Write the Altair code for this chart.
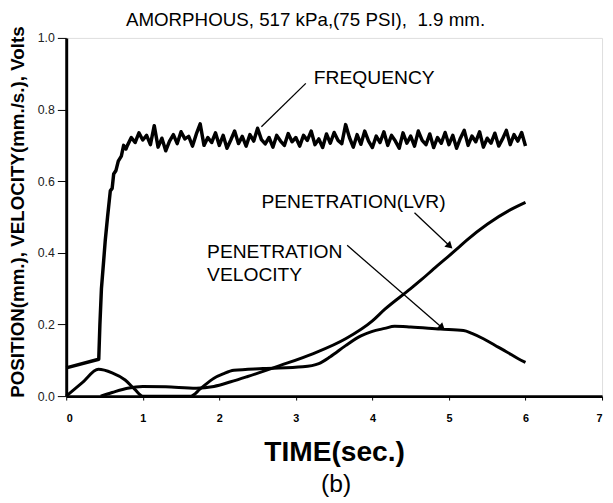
import altair as alt
import pandas as pd
import math

# ---------------- data ----------------
freq_t = [0.0, 0.425, 0.44, 0.46, 0.49, 0.51, 0.54, 0.576, 0.60, 0.62, 0.65, 0.68, 0.72, 0.75, 0.78,
          0.80, 0.85, 0.90, 0.95, 1.00, 1.05, 1.10, 1.15, 1.20, 1.25, 1.30, 1.35, 1.40, 1.45, 1.50,
          1.55, 1.60, 1.65, 1.70, 1.75, 1.80, 1.85, 1.90, 1.95, 2.00, 2.05, 2.10, 2.15, 2.20, 2.25,
          2.30, 2.35, 2.40, 2.45, 2.50, 2.55, 2.60, 2.65, 2.70, 2.75, 2.80, 2.85, 2.90, 2.95, 3.00,
          3.05, 3.10, 3.15, 3.20, 3.25, 3.30, 3.35, 3.40, 3.45, 3.50, 3.55, 3.60, 3.65, 3.70, 3.75,
          3.80, 3.85, 3.90, 3.95, 4.00, 4.05, 4.10, 4.15, 4.20, 4.25, 4.30, 4.35, 4.40, 4.45, 4.50,
          4.55, 4.60, 4.65, 4.70, 4.75, 4.80, 4.85, 4.90, 4.95, 5.00, 5.05, 5.10, 5.15, 5.20, 5.25,
          5.30, 5.35, 5.40, 5.45, 5.50, 5.55, 5.60, 5.65, 5.70, 5.75, 5.80, 5.85, 5.90, 5.95, 6.00]
freq_v = [0.079, 0.103, 0.20, 0.30, 0.38, 0.435, 0.50, 0.573, 0.58, 0.62, 0.63, 0.656, 0.67, 0.70, 0.69,
          0.700, 0.722, 0.708, 0.735, 0.715, 0.728, 0.702, 0.755, 0.695, 0.720, 0.685, 0.712, 0.730, 0.705, 0.738,
          0.718, 0.725, 0.698, 0.732, 0.760, 0.700, 0.722, 0.708, 0.735, 0.700, 0.728, 0.692, 0.715, 0.740, 0.705,
          0.725, 0.698, 0.730, 0.712, 0.748, 0.716, 0.704, 0.722, 0.695, 0.728, 0.712, 0.700, 0.733, 0.710, 0.722,
          0.698, 0.728, 0.714, 0.740, 0.702, 0.718, 0.694, 0.732, 0.706, 0.736, 0.714, 0.705, 0.758, 0.722, 0.695,
          0.730, 0.703, 0.740, 0.712, 0.694, 0.726, 0.708, 0.738, 0.700, 0.728, 0.712, 0.692, 0.735, 0.706, 0.726,
          0.698, 0.740, 0.714, 0.702, 0.732, 0.694, 0.722, 0.706, 0.736, 0.702, 0.728, 0.692, 0.720, 0.742, 0.700,
          0.726, 0.710, 0.738, 0.695, 0.720, 0.706, 0.734, 0.698, 0.718, 0.742, 0.702, 0.730, 0.712, 0.736, 0.698]

vel_t = [0.0, 0.21, 0.42, 0.6, 0.77, 0.9, 1.0, 1.63, 1.75, 1.93, 2.05, 2.19, 2.57, 3.09, 3.3, 3.45, 3.65,
         3.85, 3.99, 4.16, 4.29, 4.5, 4.89, 5.19, 5.3, 5.45, 5.6, 5.75, 5.9, 6.0]
vel_v = [0.0, 0.0375, 0.075, 0.065, 0.045, 0.018, 0.0, 0.0, 0.02, 0.05, 0.062, 0.072, 0.077, 0.082, 0.091, 0.11, 0.141,
         0.168, 0.18, 0.189, 0.195, 0.193, 0.187, 0.183, 0.175, 0.16, 0.142, 0.124, 0.105, 0.094]

lvr_t = [0.45, 0.6, 0.8, 1.0, 1.3, 1.7, 1.93, 2.15, 2.36, 2.79, 3.22, 3.65, 4.0, 4.16, 4.5, 4.64,
         4.8, 5.09, 5.23, 5.5, 5.8, 6.0]
lvr_v = [0.0, 0.01, 0.022, 0.027, 0.026, 0.022, 0.027, 0.04, 0.054, 0.085, 0.118, 0.16, 0.21, 0.242, 0.30, 0.325,
         0.355, 0.408, 0.435, 0.48, 0.52, 0.541]

x_ticks = [0, 1, 2, 3, 4, 5, 6, 7]
y_ticks = [0.0, 0.2, 0.4, 0.6, 0.8, 1.0]

labels_text = ["FREQUENCY", "PENETRATION(LVR)", "PENETRATION", "VELOCITY"]
labels_t = [3.235, 2.55, 1.84, 1.84]
labels_v = [0.870, 0.526, 0.386, 0.320]

arrow_t1 = [3.13, 4.55, 3.67]
arrow_v1 = [0.873, 0.512, 0.421]
arrow_t2 = [2.55, 5.00, 4.90]
arrow_v2 = [0.752, 0.421, 0.193]
arrow_head = [False, True, True]

title_text = "AMORPHOUS, 517 kPa,(75 PSI),\u00a0 1.9 mm."
x_title = "TIME(sec.)"
y_title = "POSITION(mm.), VELOCITY(mm./s.), Volts"
sub_label = "(b)"

# ---------------- layout ----------------
W, H = 543, 363
FONT = "Liberation Sans"

xs = alt.Scale(domain=[0, 7], nice=False)
ys = alt.Scale(domain=[0, 1], nice=False)

def line_df(t, v):
    return pd.DataFrame({"t": t, "v": v, "o": list(range(len(t)))})

xenc = alt.X("t:Q", scale=xs, axis=alt.Axis(
    values=x_ticks, format="d", title=x_title, titleFont=FONT, titleFontSize=28.5,
    titleFontWeight="bold", titleColor="black", titlePadding=14,
    labelFont=FONT, labelFontSize=11, labelFontWeight="bold", labelColor="black",
    labelPadding=13, tickSize=4, tickColor="black", domainColor="black", domainWidth=3,
    grid=False))
yenc = alt.Y("v:Q", scale=ys, axis=alt.Axis(
    values=y_ticks, format=".1f", title=y_title, titleFont=FONT, titleFontSize=19,
    titleFontWeight="bold", titleColor="black", titlePadding=10, titleY=176,
    labelFont=FONT, labelFontSize=12.5, labelColor="#222", labelPadding=3,
    tickSize=9, tickColor="black", tickWidth=1, domainColor="black", domainWidth=3, grid=False))

freq = alt.Chart(line_df(freq_t, freq_v)).mark_line(
    color="black", strokeWidth=3.5, strokeJoin="round").encode(x=xenc, y=yenc, order="o:Q")
vel = alt.Chart(line_df(vel_t, vel_v)).mark_line(
    color="black", strokeWidth=3, interpolate="monotone").encode(x="t:Q", y="v:Q", order="o:Q")
lvr = alt.Chart(line_df(lvr_t, lvr_v)).mark_line(
    color="black", strokeWidth=3, interpolate="monotone").encode(x="t:Q", y="v:Q", order="o:Q")

lab_df = pd.DataFrame({"txt": labels_text, "t": labels_t, "v": labels_v})
labels = alt.Chart(lab_df).mark_text(
    align="left", baseline="alphabetic", font=FONT, fontSize=19.5, color="black").encode(
    x="t:Q", y="v:Q", text="txt:N")

arr_df = pd.DataFrame({"t": arrow_t1, "v": arrow_v1, "t2": arrow_t2, "v2": arrow_v2})
arrows = alt.Chart(arr_df).mark_rule(color="black", strokeWidth=1.3).encode(
    x="t:Q", y="v:Q", x2="t2:Q", y2="v2:Q")

px_per_t = W / 7.0
px_per_v = H / 1.0
heads = []
for a, b, c, d, h in zip(arrow_t1, arrow_v1, arrow_t2, arrow_v2, arrow_head):
    if h:
        dx = (c - a) * px_per_t
        dy = -(d - b) * px_per_v
        ang = math.degrees(math.atan2(dx, -dy)) % 360
        heads.append({"t": c, "v": d, "ang": ang})
head_df = pd.DataFrame(heads)
arrowheads = alt.Chart(head_df).mark_point(
    shape="triangle", filled=True, color="black", size=70, opacity=1).encode(
    x="t:Q", y="v:Q", angle=alt.Angle("ang:Q", scale=None))

sub = alt.Chart(pd.DataFrame({"s": [sub_label]})).mark_text(
    font=FONT, fontSize=25, color="black", baseline="top").encode(
    text="s:N", x=alt.value(W / 2 + 2), y=alt.value(H + 77))

top_title = alt.Chart(pd.DataFrame({"s": [title_text]})).mark_text(
    font=FONT, fontSize=19, color="black", baseline="alphabetic", align="center").encode(
    text="s:N", x=alt.value(W / 2 - 29), y=alt.value(-12))

chart = alt.layer(freq, vel, lvr, arrows, arrowheads, labels, sub, top_title).properties(
    width=W, height=H,
    autosize=alt.AutoSizeParams(type="none"),
    padding={"left": 59, "top": 27, "right": 3, "bottom": 105},
).configure_view(stroke="black", strokeWidth=3).configure(background="white")

chart.save("out.html", embed_options={"renderer": "svg", "actions": False})
